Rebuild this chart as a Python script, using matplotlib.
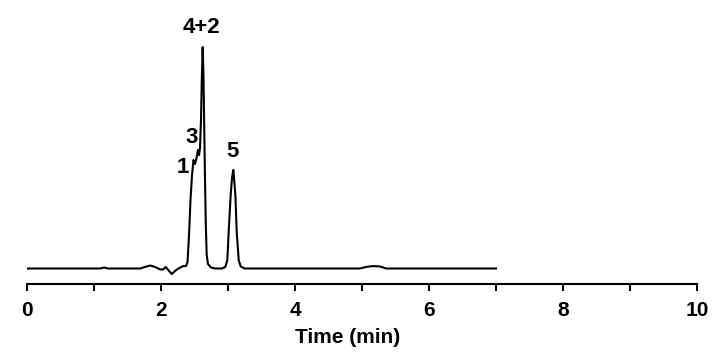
import matplotlib
matplotlib.use("Agg")
import matplotlib.pyplot as plt

# trace (time in min, signal in arbitrary units)
time_min = [0.0, 1.09, 1.15, 1.21, 1.69, 1.76, 1.84, 1.91, 1.99, 2.03, 2.07,
            2.12, 2.16, 2.21, 2.25, 2.33, 2.373, 2.396, 2.418, 2.440, 2.463,
            2.485, 2.507, 2.530, 2.552, 2.567, 2.582, 2.597, 2.609, 2.622,
            2.634, 2.646, 2.657, 2.669, 2.682, 2.701, 2.746, 2.81, 2.91, 2.96,
            2.99, 3.01, 3.04, 3.06, 3.08, 3.09, 3.11, 3.13, 3.16, 3.19, 3.25,
            4.97, 5.06, 5.16, 5.27, 5.36, 7.0]
signal = [0.0, 0.0, 0.45, 0.0, 0.0, 0.7, 1.35, 0.7, -0.45, -0.45, 0.7,
          -1.1, -2.5, -1.1, -0.2, 1.1, 1.1, 2.9, 15.1, 30.9, 42.2,
          49.0, 47.2, 49.9, 53.5, 51.2, 54.4, 67.0, 85.1, 100.0,
          87.4, 62.5, 40.0, 19.6, 6.1, 2.0, 0.45, 0.0, 0.0, 0.7,
          3.8, 16.5, 33.2, 40.9, 44.5, 40.9, 33.2, 16.5, 3.8, 0.9, 0.0,
          0.0, 0.7, 1.1, 0.9, 0.0, 0.0]

peak_labels = ["1", "3", "4+2", "5"]
peak_label_t = [2.33, 2.45, 2.60, 3.06]
peak_label_s = [45.5, 59.0, 108.6, 52.8]

plt.rcParams["font.family"] = ["Liberation Sans", "DejaVu Sans"]
plt.rcParams["font.weight"] = "bold"

fig = plt.figure(figsize=(7.28, 3.56), dpi=100)
ax = fig.add_axes([27 / 728, 72 / 356, 670 / 728, 264 / 356])

ax.plot(time_min, signal, color="black", linewidth=1.5)

for lab, t, s in zip(peak_labels, peak_label_t, peak_label_s):
    ax.text(t, s, lab, ha="center", va="center", fontsize=16, fontweight="bold")

ax.set_xlim(0, 10)
ax.set_ylim(-7.0, 112.2)
ax.set_xticks([0, 2, 4, 6, 8, 10])
ax.set_xticks([1, 3, 5, 7, 9], minor=True)
ax.set_yticks([])
ax.tick_params(axis="x", which="both", direction="out", length=5, width=1.5,
               labelsize=15, pad=7)
for lbl in ax.get_xticklabels():
    lbl.set_fontweight("bold")

for side in ["top", "right", "left"]:
    ax.spines[side].set_visible(False)
ax.spines["bottom"].set_linewidth(1.5)

ax.set_xlabel("Time (min)", fontsize=15, fontweight="bold")
ax.xaxis.set_label_coords(0.479, -0.165)

fig.savefig("out.png", dpi=100)
